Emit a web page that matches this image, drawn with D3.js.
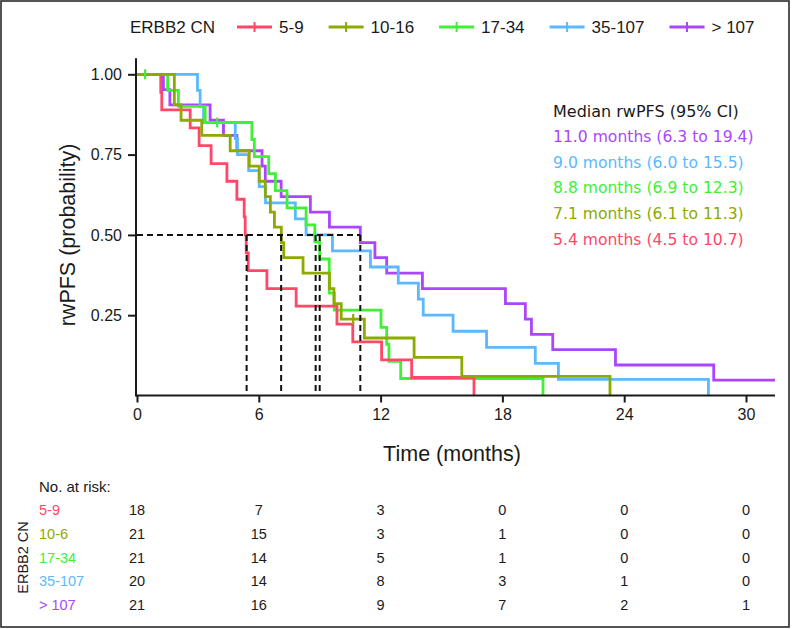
<!DOCTYPE html>
<html><head><meta charset="utf-8">
<script src="https://cdn.jsdelivr.net/npm/d3@7"></script>
<style>body{margin:0;background:#fff}svg{display:block}</style>
</head><body>
<svg id="c" width="792" height="629"></svg>
<script>
// ---------- data ----------
const groups = ["5-9", "10-16", "17-34", "35-107", "> 107"];
const riskLabels = ["5-9", "10-6", "17-34", "35-107", "> 107"];
const colors = ["#ff4768", "#8caa00", "#40f034", "#5ab9ff", "#aa46ff"];

// event times (months) and survival after each step
const times59 = [1.17, 1.22, 2.62, 3.06, 3.65, 4.43, 4.92, 5.28, 5.33, 5.38, 5.48, 6.4, 7.84, 9.85, 10.63, 12.05, 13.53, 16.6];
const surv59  = [0.944, 0.889, 0.833, 0.778, 0.722, 0.667, 0.611, 0.556, 0.5, 0.444, 0.389, 0.333, 0.278, 0.222, 0.167, 0.111, 0.056, 0];
const cens59  = [];

const times1016 = [1.84, 2.17, 3.19, 4.59, 5.53, 6.02, 6.32, 6.57, 6.77, 7.11, 7.23, 8.18, 9.48, 9.70, 10.06, 11.2, 13.65, 16.0, 23.3];
const surv1016  = [0.905, 0.857, 0.810, 0.762, 0.714, 0.667, 0.619, 0.571, 0.524, 0.476, 0.429, 0.381, 0.333, 0.286, 0.238, 0.179, 0.119, 0.0595, 0];
const cens1016  = [10.65];

const times1734 = [1.51, 2.04, 3.36, 5.66, 5.78, 6.49, 6.82, 7.39, 8.33, 8.76, 9.0, 9.47, 9.72, 12.02, 12.3, 12.41, 12.99, 20.0];
const surv1734  = [0.95, 0.90, 0.85, 0.797, 0.744, 0.691, 0.638, 0.584, 0.531, 0.478, 0.425, 0.319, 0.266, 0.212, 0.159, 0.106, 0.053, 0];
const cens1734  = [0.4, 3.95];

const times35107 = [2.98, 3.11, 3.28, 4.84, 4.95, 5.5, 6.02, 6.33, 7.8, 8.33, 9.63, 11.5, 12.87, 13.86, 14.1, 15.57, 17.22, 19.62, 20.76, 28.15];
const surv35107  = [0.95, 0.90, 0.85, 0.80, 0.75, 0.70, 0.65, 0.60, 0.55, 0.50, 0.45, 0.40, 0.35, 0.30, 0.25, 0.20, 0.15, 0.10, 0.05, 0];
const cens35107  = [];

const times107 = [1.3, 1.62, 3.6, 4.26, 4.92, 6.16, 6.32, 7.1, 8.54, 9.48, 11.0, 11.72, 12.3, 14.06, 18.15, 19.13, 19.43, 20.48, 23.57, 28.41];
const surv107  = [0.952, 0.905, 0.857, 0.810, 0.762, 0.714, 0.667, 0.619, 0.571, 0.524, 0.476, 0.429, 0.381, 0.333, 0.286, 0.238, 0.190, 0.143, 0.095, 0.048];
const cens107  = [];

const medianTimes = [5.4, 7.1, 8.8, 9.0, 11.0];
const medianTitle = "Median rwPFS (95% CI)";
const medianLines = ["11.0 months (6.3 to 19.4)", "9.0 months (6.0 to 15.5)", "8.8 months (6.9 to 12.3)", "7.1 months (6.1 to 11.3)", "5.4 months (4.5 to 10.7)"];
const medianColorIdx = [4, 3, 2, 1, 0];

const riskTimes = [0, 6, 12, 18, 24, 30];
const risk59 = [18, 7, 3, 0, 0, 0];
const risk1016 = [21, 15, 3, 1, 0, 0];
const risk1734 = [21, 14, 5, 1, 0, 0];
const risk35107 = [20, 14, 8, 3, 1, 0];
const risk107 = [21, 16, 9, 7, 2, 1];

const xTicks = [0, 6, 12, 18, 24, 30];
const yTicks = [0.25, 0.50, 0.75, 1.00];
const legendTitle = "ERBB2 CN";
const xTitle = "Time (months)";
const yTitle = "rwPFS (probability)";
const riskTitle = "No. at risk:";

// ---------- assemble ----------
const series = [
  {t: times59, s: surv59, c: cens59, r: risk59},
  {t: times1016, s: surv1016, c: cens1016, r: risk1016},
  {t: times1734, s: surv1734, c: cens1734, r: risk1734},
  {t: times35107, s: surv35107, c: cens35107, r: risk35107},
  {t: times107, s: surv107, c: cens107, r: risk107}
];

const svg = d3.select("#c");
const F = "'Liberation Sans', Arial, Helvetica, sans-serif";
const FD = "'DejaVu Sans', sans-serif";
const ink = "#1a1a1a";

svg.append("rect").attr("x", 1).attr("y", 1).attr("width", 788).attr("height", 626)
  .attr("fill", "#fff").attr("stroke", "#2a2a2a").attr("stroke-width", 1.6);

const xMax = 31.43;
const x = d3.scaleLinear().domain([0, 30]).range([137, 746]);
const y = d3.scaleLinear().domain([0, 1]).range([395.5, 74.3]);

// curves
const line = d3.line().x(d => x(d[0])).y(d => y(d[1])).curve(d3.curveStepAfter);
const drawOrder = [4, 3, 2, 0, 1];
const gCurves = svg.append("g");
drawOrder.forEach(i => {
  const sr = series[i];
  const pts = [[0, 1]];
  sr.t.forEach((tt, k) => pts.push([tt, sr.s[k]]));
  const last = sr.s[sr.s.length - 1];
  if (last > 0) pts.push([xMax, last]);
  gCurves.append("path").attr("d", line(pts)).attr("fill", "none")
    .attr("stroke", colors[i]).attr("stroke-width", 2.8).attr("stroke-linejoin", "miter");
});
// censor marks
function survAt(sr, tt) {
  let v = 1;
  sr.t.forEach((et, k) => { if (et <= tt) v = sr.s[k]; });
  return v;
}
series.forEach((sr, i) => {
  sr.c.forEach(ct => {
    const v = survAt(sr, ct);
    svg.append("line").attr("x1", x(ct)).attr("x2", x(ct))
      .attr("y1", y(v) - 5).attr("y2", y(v) + 5)
      .attr("stroke", colors[i]).attr("stroke-width", 2.2);
  });
});

// median dashed lines
const gMed = svg.append("g").attr("stroke", "#111").attr("stroke-width", 2).attr("stroke-dasharray", "6,4").attr("fill", "none");
gMed.append("line").attr("x1", x(0)).attr("x2", x(d3.max(medianTimes))).attr("y1", y(0.5)).attr("y2", y(0.5));
medianTimes.forEach(m => {
  gMed.append("line").attr("x1", x(m)).attr("x2", x(m)).attr("y1", y(0.5)).attr("y2", y(0));
});

// axes
const xAxis = d3.axisBottom(x).tickValues(xTicks).tickSize(7).tickSizeOuter(0).tickPadding(6).tickFormat(d3.format("d"));
const gx = svg.append("g").attr("transform", `translate(0,${y(0)})`).call(xAxis);
gx.select(".domain").attr("d", `M${x(0) - 1},0H${x(xMax)}`);
const yAxis = d3.axisLeft(y).tickValues(yTicks).tickSize(8).tickSizeOuter(0).tickPadding(6).tickFormat(d3.format(".2f"));
const gy = svg.append("g").attr("transform", `translate(${x(0) - 1},0)`).call(yAxis);
gy.select(".domain").attr("d", `M0,${y(1.05)}V${y(0) + 1}`);
[gx, gy].forEach(g => {
  g.selectAll(".domain, .tick line").attr("stroke", ink).attr("stroke-width", 2);
  g.selectAll("text").attr("fill", ink).style("font-family", F).style("font-size", "16px");
});

// axis titles
svg.append("text").attr("x", (x(0) + x(xMax)) / 2 - 4).attr("y", 461).attr("text-anchor", "middle")
  .style("font-family", F).style("font-size", "21.5px").attr("fill", ink).text(xTitle);
svg.append("text").attr("transform", `translate(75,${(y(0) + y(1)) / 2}) rotate(-90)`).attr("text-anchor", "middle")
  .style("font-family", F).style("font-size", "21.5px").attr("fill", ink).text(yTitle);

// legend
const gLeg = svg.append("g").style("font-family", F).style("font-size", "17px");
const lt = gLeg.append("text").attr("x", 130).attr("y", 33).attr("fill", ink).text(legendTitle);
let cx = 130 + lt.node().getComputedTextLength() + 22;
groups.forEach((g, i) => {
  gLeg.append("line").attr("x1", cx).attr("x2", cx + 35).attr("y1", 27).attr("y2", 27)
    .attr("stroke", colors[i]).attr("stroke-width", 3);
  gLeg.append("line").attr("x1", cx + 17.5).attr("x2", cx + 17.5).attr("y1", 22).attr("y2", 32)
    .attr("stroke", colors[i]).attr("stroke-width", 2);
  const tx = gLeg.append("text").attr("x", cx + 42).attr("y", 33).attr("fill", ink).text(g);
  cx = cx + 42 + tx.node().getComputedTextLength() + 25;
});

// median annotation
svg.append("text").attr("x", 553).attr("y", 116.5).style("font-family", FD).style("font-size", "16px")
  .attr("fill", ink).text(medianTitle);
medianLines.forEach((m, k) => {
  svg.append("text").attr("x", 553).attr("y", 142 + k * 25.7).style("font-family", FD).style("font-size", "15.6px")
    .attr("fill", colors[medianColorIdx[k]]).text(m);
});

// risk table
svg.append("text").attr("x", 39).attr("y", 492).style("font-family", F).style("font-size", "15px")
  .attr("fill", ink).text(riskTitle);
const rowY = d3.scaleLinear().domain([0, 4]).range([515, 610]);
series.forEach((sr, i) => {
  svg.append("text").attr("x", 39).attr("y", rowY(i)).style("font-family", F).style("font-size", "14.5px")
    .attr("fill", colors[i]).text(riskLabels[i]);
  sr.r.forEach((v, k) => {
    svg.append("text").attr("x", x(riskTimes[k])).attr("y", rowY(i)).attr("text-anchor", "middle")
      .style("font-family", F).style("font-size", "14.5px").attr("fill", ink).text(v);
  });
});
svg.append("text").attr("transform", `translate(28,${rowY(2) - 5}) rotate(-90)`).attr("text-anchor", "middle")
  .style("font-family", F).style("font-size", "14.5px").attr("fill", ink).text(legendTitle);
</script>
</body></html>
